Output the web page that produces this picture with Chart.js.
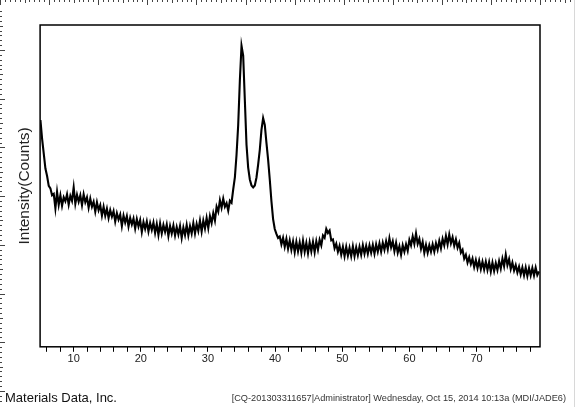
<!DOCTYPE html>
<html lang="en">

<head>
    <meta charset="UTF-8">
    <title>XRD pattern</title>
    <style>
        body { margin: 0; background: #fff; }
    </style>
</head>

<body>
    <div style="width: 576px; height: 407px;">
        <canvas id="myChart" width="576" height="407"></canvas>
    </div>

    <script src="https://cdn.jsdelivr.net/npm/chart.js@4.4.0/dist/chart.umd.min.js"></script>
    <script>
        // scan settings (2-theta, degrees)
        const startAngle = 5.05;
        const stepAngle = 0.2475;
        const xMin = 5;
        const xMax = 79.45;
        const labelEvery = 10;
        const tickEvery = 2;

        // intensity, one row per degree (4 steps each)
        const counts = [
            916, 840, 780, 720,
            690, 650, 640, 612,
            618, 560, 626, 574,
            612, 570, 604, 588,
            616, 574, 610, 590,
            644, 578, 614, 586,
            612, 572, 616, 584,
            604, 562, 598, 566,
            586, 546, 584, 552,
            572, 530, 566, 530,
            558, 520, 552, 526,
            548, 506, 540, 514,
            534, 488, 530, 502,
            528, 486, 520, 494,
            518, 478, 516, 486,
            512, 464, 504, 476,
            506, 466, 500, 472,
            502, 460, 496, 452,
            498, 458, 492, 464,
            494, 448, 488, 458,
            490, 450, 484, 454,
            488, 440, 482, 452,
            492, 450, 488, 458,
            500, 458, 496, 468,
            510, 466, 510, 478,
            520, 480, 528, 500,
            540, 510, 566, 546,
            592, 562, 598, 566,
            580, 550, 590, 582,
            636, 684, 776, 896,
            1076, 1216, 1176, 996,
            816, 724, 676, 652,
            644, 652, 684, 736,
            796, 876, 924, 896,
            824, 756, 676, 588,
            516, 476, 456, 440,
            446, 414, 440, 404,
            436, 396, 430, 392,
            426, 382, 424, 386,
            422, 380, 428, 384,
            420, 378, 422, 386,
            424, 382, 426, 392,
            432, 410, 450, 440,
            476, 460, 470, 430,
            434, 398, 416, 384,
            408, 372, 404, 366,
            404, 368, 400, 366,
            406, 366, 402, 370,
            404, 372, 410, 376,
            408, 376, 410, 380,
            412, 376, 414, 384,
            418, 384, 420, 392,
            426, 394, 438, 402,
            426, 386, 420, 380,
            406, 372, 410, 384,
            414, 388, 432, 410,
            446, 416, 458, 416,
            436, 396, 424, 380,
            412, 380, 410, 384,
            414, 384, 418, 392,
            428, 398, 436, 410,
            448, 414, 454, 418,
            442, 408, 434, 400,
            420, 380, 392, 356,
            372, 340, 362, 334,
            356, 322, 350, 318,
            348, 314, 344, 312,
            344, 310, 342, 304,
            340, 306, 338, 310,
            346, 316, 356, 326,
            372, 330, 354, 314,
            340, 308, 330, 300,
            324, 292, 320, 288,
            320, 286, 318, 288,
            318, 288, 320, 290,
            304
        ];

        const footerLeft = 'Materials Data, Inc.';
        const footerRight = '[CQ-201303311657|Administrator] Wednesday, Oct 15, 2014 10:13a (MDI/JADE6)';

        const points = counts.map((c, i) => ({ x: startAngle + i * stepAngle, y: c }));

        // frame box, window rulers and footer line
        const framePlugin = {
            id: 'frame',
            afterDraw(chart) {
                const c = chart.ctx;
                const a = chart.chartArea;
                c.save();
                c.strokeStyle = '#000';
                c.lineWidth = 1.5;
                c.strokeRect(a.left, a.top, a.right - a.left, a.bottom - a.top);

                // top ruler
                c.strokeStyle = '#444';
                c.lineWidth = 1;
                c.beginPath();
                for (let i = 0; i * 4.91 < 572; i++) {
                    const x = Math.round(i * 4.91) + 0.5;
                    const len = i % 10 === 0 ? 5 : (i % 5 === 0 ? 3 : 2);
                    c.moveTo(x, 0);
                    c.lineTo(x, len);
                }
                // left ruler
                for (let i = 2; i * 4.87 + 1.3 < 402; i++) {
                    const y = Math.round(i * 4.87 + 1.3) + 0.5;
                    const len = i % 10 === 0 ? 5 : (i % 5 === 0 ? 3 : 2);
                    c.moveTo(0, y);
                    c.lineTo(len, y);
                }
                c.stroke();

                c.strokeStyle = '#d8d8d8';
                c.beginPath();
                c.moveTo(574.5, 0);
                c.lineTo(574.5, 407);
                c.stroke();

                c.fillStyle = '#111';
                c.textBaseline = 'alphabetic';
                c.font = '13px "Liberation Sans", Arial, sans-serif';
                c.textAlign = 'left';
                c.fillText(footerLeft, 5, 402);
                c.fillStyle = '#333';
                c.font = '9.2px "Liberation Sans", Arial, sans-serif';
                c.textAlign = 'right';
                c.fillText(footerRight, 566, 401);
                c.restore();
            }
        };

        var ctx = document.getElementById('myChart');
        var config = {
            type: 'line',
            data: {
                datasets: [
                    {
                        data: points,
                        borderColor: '#000',
                        borderWidth: 2.1,
                        pointRadius: 0,
                        tension: 0,
                        fill: false
                    }
                ]
            },
            options: {
                responsive: false,
                animation: false,
                events: [],
                layout: {
                    padding: { left: 11, top: 25, right: 36, bottom: 40 }
                },
                plugins: {
                    legend: { display: false },
                    tooltip: { enabled: false }
                },
                scales: {
                    x: {
                        type: 'linear',
                        min: xMin,
                        max: xMax,
                        border: { display: false },
                        grid: {
                            drawOnChartArea: false,
                            drawTicks: true,
                            tickLength: 5,
                            tickColor: '#000'
                        },
                        afterBuildTicks(scale) {
                            const ticks = [];
                            for (let v = 6; v <= xMax; v += tickEvery) ticks.push({ value: v });
                            scale.ticks = ticks;
                        },
                        ticks: {
                            autoSkip: false,
                            maxRotation: 0,
                            padding: 1,
                            color: '#222',
                            font: { family: '"Liberation Sans", Arial, sans-serif', size: 11 },
                            callback: (v) => (v % labelEvery === 0 ? String(v) : '')
                        }
                    },
                    y: {
                        min: 0,
                        max: 1300,
                        border: { display: false },
                        grid: { display: false, drawTicks: false },
                        ticks: { display: false },
                        title: {
                            display: true,
                            text: 'Intensity(Counts)',
                            color: '#222',
                            padding: { top: 4, bottom: 6.5 },
                            font: { family: '"Liberation Sans", Arial, sans-serif', size: 15.5 }
                        }
                    }
                }
            },
            plugins: [framePlugin]
        };
        var chart = new Chart(ctx, config);
    </script>

</body>

</html>
